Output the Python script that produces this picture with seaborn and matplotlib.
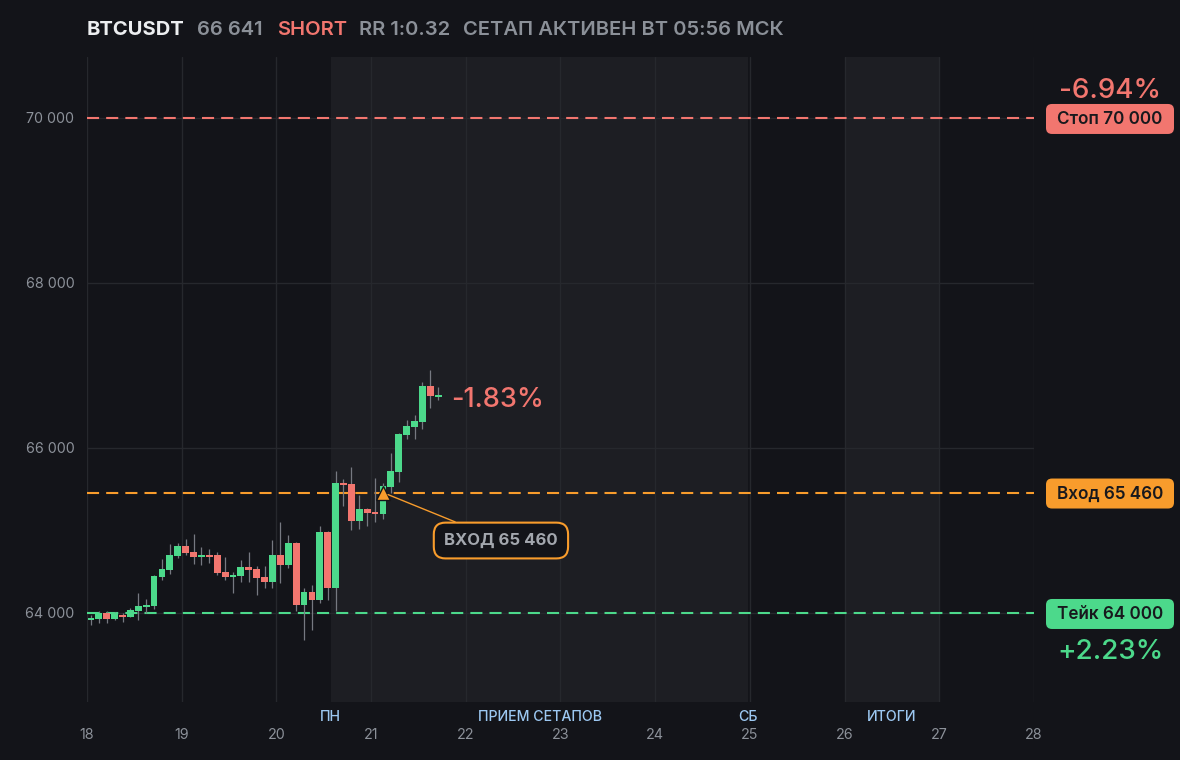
import numpy as np
import pandas as pd
import matplotlib
matplotlib.use("Agg")
import matplotlib.pyplot as plt
import matplotlib.transforms as mtransforms
from matplotlib.patches import FancyBboxPatch
from matplotlib.ticker import FuncFormatter
import seaborn as sns

# 2h candles, BTCUSDT
opens = [63909, 63932, 63997, 63932, 63976, 63956, 64030, 64077, 64085, 64440,
         64521, 64691, 64812, 64739, 64683, 64703, 64703, 64497, 64436, 64448,
         64558, 64533, 64436, 64376, 64703, 64582, 64848, 64097, 64255, 64158,
         64982, 64303, 65576, 65564, 65115, 65261, 65224, 65200, 65527, 65709,
         66158, 66255, 66315, 66752, 66618]
closes = [63939, 64004, 63932, 63997, 63956, 64036, 64085, 64097, 64448, 64533,
          64703, 64812, 64724, 64683, 64703, 64683, 64485, 64436, 64461, 64558,
          64521, 64424, 64376, 64703, 64582, 64848, 64097, 64255, 64158, 64982,
          64303, 65576, 65552, 65115, 65261, 65212, 65200, 65539, 65721, 66170,
          66267, 66327, 66752, 66630, 66641]
highs = [63976, 64028, 64020, 64012, 63997, 64061, 64242, 64170, 64460, 64655,
         64836, 64848, 64897, 64958, 64800, 64776, 64739, 64679, 64497, 64642,
         64739, 64570, 64570, 64885, 65103, 64945, 64860, 64303, 64339, 65055,
         64990, 65721, 65624, 65770, 65430, 65270, 65636, 65576, 65939, 66180,
         66339, 66400, 66800, 66945, 66739]
lows = [63855, 63883, 63880, 63915, 63892, 63948, 63920, 64004, 64052, 64400,
        64473, 64667, 64703, 64594, 64582, 64606, 64461, 64400, 64242, 64376,
        64376, 64218, 64303, 64303, 64364, 64545, 64024, 63673, 63794, 64121,
        64158, 64024, 65297, 65006, 65018, 65055, 65103, 65139, 65455, 65588,
        66109, 66109, 66230, 66485, 66582]

first_day = 18
candle_hours = 2
entry_candle = 37

entry_price = 65460
stop_price = 70000
take_price = 64000

day_ticks = list(range(18, 29))
price_ticks = [64000, 66000, 68000, 70000]

session_spans = [(20.575, 24.98), (26.0, 27.0)]
session_labels = ["ПН", "ПРИЕМ СЕТАПОВ", "СБ", "ИТОГИ"]
session_label_days = [20.575, 22.78, 24.98, 26.5]

BG = "#131419"
SHADE = "#1d1e23"
GRID = "#26282d"
GREEN = "#4cd98b"
RED = "#f2766f"
ORANGE = "#f89c2c"
WICK = "#767981"
TICK = "#8c9199"
BLUE = "#9cc8f2"
GRAY = "#8b9098"

sns.set_theme(style="dark", rc={"axes.facecolor": BG, "figure.facecolor": BG,
                                "grid.color": GRID, "axes.edgecolor": BG})
plt.rcParams["font.family"] = ["Inter", "DejaVu Sans"]

df = pd.DataFrame({"open": opens, "high": highs, "low": lows, "close": closes})
df["day"] = first_day + (np.arange(len(df)) + 0.5) * candle_hours / 24
df["up"] = df["close"] >= df["open"]
df["color"] = np.where(df["up"], GREEN, RED)
df["bottom"] = df[["open", "close"]].min(axis=1)
df["height"] = (df["close"] - df["open"]).abs().clip(lower=18)

fig = plt.figure(figsize=(11.8, 7.6), dpi=100)
ax = fig.add_axes([87 / 1180, 58 / 760, 947 / 1180, 645 / 760])
ax.set_xlim(18, 28)
ax.set_ylim(62921, 70739)

for a, b in session_spans:
    ax.axvspan(a, b, color=SHADE, zorder=0.2, lw=0)

ax.set_axisbelow(True)
ax.grid(True, color=GRID, lw=1)
ax.set_xticks(day_ticks)
ax.set_yticks(price_ticks)
ax.yaxis.set_major_formatter(FuncFormatter(lambda v, p: f"{v:,.0f}".replace(",", " ")))
ax.tick_params(axis="x", length=0, pad=19, labelsize=10.3, labelcolor=TICK)
ax.tick_params(axis="y", length=0, pad=9, labelsize=10.3, labelcolor=TICK)
for s in ax.spines.values():
    s.set_visible(False)

# levels
dash = (5.8, 3.4)
ax.axhline(stop_price, color=RED, lw=1.5, dashes=dash, zorder=2)
ax.axhline(entry_price, color=ORANGE, lw=1.5, dashes=dash, zorder=2)
ax.axhline(take_price, color=GREEN, lw=1.5, dashes=dash, zorder=2)

# candles
ax.vlines(df["day"], df["low"], df["high"], color=WICK, lw=0.9, zorder=3)
ax.bar(df["day"], df["height"], bottom=df["bottom"], width=0.072,
       color=df["color"], lw=0, zorder=4)

# entry marker + callout
ex = df["day"].iloc[entry_candle]
ax.plot(ex, entry_price, marker="^", ms=10, color=ORANGE, mec=BG, mew=1, zorder=6)
ax.annotate("ВХОД 65 460", xy=(ex, entry_price), xytext=(118, -48),
            textcoords="offset pixels", ha="center", va="center",
            fontsize=12, fontweight="bold", color="#a3a7ae", zorder=7,
            bbox=dict(boxstyle="round,pad=0.62,rounding_size=0.7", fc=BG, ec=ORANGE, lw=1.5),
            arrowprops=dict(arrowstyle="-", color=ORANGE, lw=1, shrinkA=0, shrinkB=4))

last = df.iloc[-1]
ax.text(last["day"] + 0.137, last["close"] - 60, "-1.83%", color=RED, fontsize=19.5,
        fontweight="medium", ha="left", va="center", zorder=7)

# session labels under the axis
blend = mtransforms.blended_transform_factory(ax.transData, ax.transAxes)
for d, lab in zip(session_label_days, session_labels):
    ax.text(d, -0.024, lab, transform=blend, ha="center", va="center",
            fontsize=10.2, fontweight="medium", color=BLUE, clip_on=False)

# right side price tags
fig.canvas.draw()
ident = mtransforms.IdentityTransform()
tags = [(stop_price, "Стоп 70 000", RED, "-6.94%", 27),
        (entry_price, "Вход 65 460", ORANGE, None, 0),
        (take_price, "Тейк 64 000", GREEN, "+2.23%", -39.5)]
for price, lab, col, pct, off in tags:
    yp = ax.transData.transform((20, price))[1]
    box = FancyBboxPatch((1046, yp - 16), 128, 30, transform=ident,
                         boxstyle="round,pad=0,rounding_size=6", fc=col, ec="none")
    fig.patches.append(box)
    fig.text(1110, yp - 2, lab, transform=ident, ha="center", va="center",
             fontsize=12.3, fontweight="semibold", color="#18191d")
    if pct:
        fig.text(1110, yp + off, pct, transform=ident, ha="center", va="center",
                 fontsize=20, fontweight="medium", color=col)

# header
ty = 1 - 30 / 760
fig.text(87 / 1180, ty, "BTCUSDT", color="#eceef0", fontsize=14.5, fontweight="bold", va="center")
fig.text(197 / 1180, ty, "66 641", color=GRAY, fontsize=14.5, fontweight="semibold", va="center")
fig.text(277 / 1180, ty, "SHORT", color=RED, fontsize=14.5, fontweight="semibold", va="center")
fig.text(359 / 1180, ty, "RR 1:0.32", color=GRAY, fontsize=14.5, fontweight="semibold", va="center")
fig.text(463 / 1180, ty, "СЕТАП АКТИВЕН ВТ 05:56 МСК", color=GRAY, fontsize=14.5,
         fontweight="semibold", va="center")

fig.savefig("out.png", dpi=100, facecolor=BG)
